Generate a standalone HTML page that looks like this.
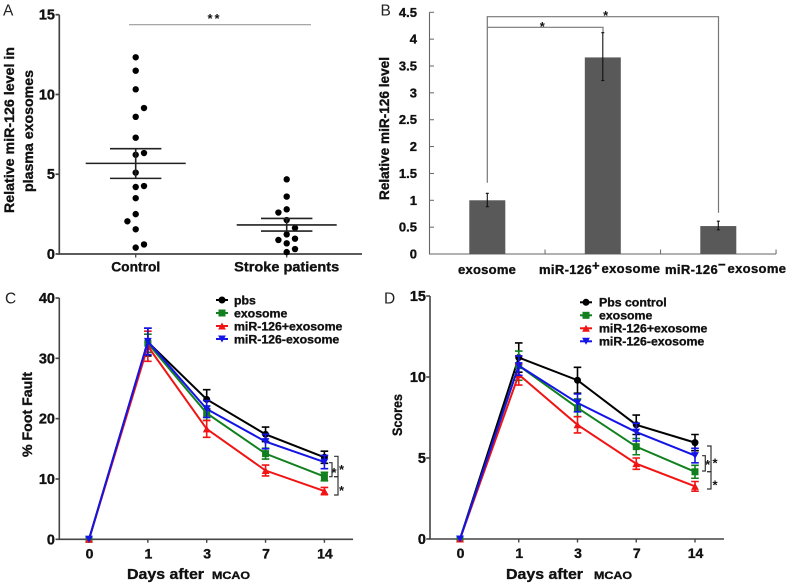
<!DOCTYPE html>
<html lang="en">
<head>
<meta charset="utf-8">
<title>miR-126 exosome figure</title>
<style>
html,body{margin:0;padding:0;background:#fff;width:790px;height:585px;overflow:hidden}
svg{display:block;filter:blur(0.35px)}
text{font-family:"Liberation Sans",sans-serif;font-weight:bold;fill:#111;stroke:#111;stroke-width:0.35px}
.panel{font-weight:normal;font-size:15.5px;fill:#222;stroke:none}
.br{fill:none;stroke:#333;stroke-width:1.2}
.star{font-size:13px;stroke:none}
</style>
</head>
<body>
<svg id="figure" width="790" height="585" viewBox="0 0 790 585" xmlns="http://www.w3.org/2000/svg">
  <rect x="0" y="0" width="790" height="585" fill="#fff"/>

  <text class="panel" x="3" y="15.5">A</text>
  <text class="panel" x="380.5" y="15.5">B</text>
  <text class="panel" x="5" y="303.5">C</text>
  <text class="panel" x="384" y="303.5">D</text>

  <text transform="translate(14,213) rotate(-90)" font-size="14" textLength="166" lengthAdjust="spacingAndGlyphs">Relative miR-126 level in</text>
  <text transform="translate(33,192) rotate(-90)" font-size="14" textLength="122" lengthAdjust="spacingAndGlyphs">plasma exosomes</text>
  <line x1="129" y1="24.7" x2="311" y2="24.7" stroke="#999" stroke-width="1.2"/>
  <text class="star" x="214.5" y="23" text-anchor="middle" letter-spacing="2">**</text>

  <text transform="translate(389,200) rotate(-90)" font-size="13.6" textLength="143" lengthAdjust="spacingAndGlyphs">Relative miR-126 level</text>
  <path class="br" d="M487.3 182.7V16.7H718.5V212.7" style="stroke:#777"/>
  <path class="br" d="M487.3 27.3H603V33" style="stroke:#777"/>
  <text class="star" x="605.7" y="20" text-anchor="middle">*</text>
  <text class="star" x="542.3" y="31" text-anchor="middle">*</text>

  <text transform="translate(32,457) rotate(-90)" font-size="14" textLength="85" lengthAdjust="spacingAndGlyphs">% Foot Fault</text>
  <text x="127" y="579" font-size="15" textLength="77" lengthAdjust="spacingAndGlyphs">Days after</text>
  <text x="212" y="579" font-size="11" textLength="38" lengthAdjust="spacingAndGlyphs">MCAO</text>
  <path class="br" d="M334 456.3H338V476.7H334"/>
  <path class="br" d="M334 476.7H338V495H334"/>
  <path class="br" d="M329 462.7H332V476.7H329"/>
  <text class="star" x="341.5" y="474" text-anchor="middle">*</text>
  <text class="star" x="341.5" y="495" text-anchor="middle">*</text>
  <text class="star" x="334" y="477" text-anchor="middle">*</text>

  <text transform="translate(402,436) rotate(-90)" font-size="13.5" textLength="42" lengthAdjust="spacingAndGlyphs">Scores</text>
  <text x="506" y="579" font-size="15" textLength="77" lengthAdjust="spacingAndGlyphs">Days after</text>
  <text x="594" y="579" font-size="11" textLength="38" lengthAdjust="spacingAndGlyphs">MCAO</text>
  <path class="br" d="M707 446H711V471.7H707"/>
  <path class="br" d="M707 471.7H711V489H707"/>
  <path class="br" d="M702 455.7H705.3V471H702"/>
  <text class="star" x="715" y="467.5" text-anchor="middle">*</text>
  <text class="star" x="715" y="489.5" text-anchor="middle">*</text>
  <text class="star" x="707.7" y="469" text-anchor="middle">*</text>

  <text x="458" y="274" font-size="13" letter-spacing="0.25">exosome</text>
  <text y="274" font-size="13" letter-spacing="0.35"><tspan x="539">miR-126</tspan><tspan x="592" y="270">+</tspan><tspan x="601.5" y="273">exosome</tspan></text>
  <text y="274" font-size="13" letter-spacing="0.35"><tspan x="665">miR-126</tspan><tspan x="718" y="269">−</tspan><tspan x="727.5" y="273">exosome</tspan></text>

  <g id="layer-a"></g>
  <g id="layer-b"></g>
  <g id="layer-c"></g>
  <g id="layer-d"></g>
</svg>

<script>
/* Panel A data */
const aCategories = ['Control', 'Stroke patients'];
const aTicks = [0, 5, 10, 15];
const aControlValues = [12.33, 11.49, 10.32, 9.15, 8.6, 7.29, 6.33, 6.22, 5.1, 4.2, 4.26, 3.5, 2.5, 2.05, 1.55, 0.6, 0.4];
const aControlColumn = [0, 0, 0, 1, 0, 0, 1, 0, 0, 0, 1, 0, 0, -1, 0, 1, 0];
const aStrokeValues = [4.68, 3.6, 2.6, 2.8, 2.13, 1.63, 1.23, 0.88, 0.96, 0.67, 0.31, 0.12];
const aStrokeColumn = [0, 0, -1, 0, 0, 1, 0, -1, 1, 0, 1, 0];
const aMeans = [5.68, 1.82];
const aUpper = [6.6, 2.23];
const aLower = [4.74, 1.44];

/* Panel B data */
const bTicks = [0, 0.5, 1, 1.5, 2, 2.5, 3, 3.5, 4, 4.5];
const bCategories = ['exosome', 'miR-126+exosome', 'miR-126-exosome'];
const bValues = [1, 3.66, 0.52];
const bUpper = [1.13, 4.12, 0.61];
const bLower = [0.88, 3.23, 0.45];

/* Panels C and D shared data */
const days = ['0', '1', '3', '7', '14'];

/* Panel C data */
const cTicks = [0, 10, 20, 30, 40];
const cNames = ['pbs', 'exosome', 'miR-126+exosome', 'miR-126-exosome'];
const cPbs = [0, 32.7, 23.2, 17.4, 13.6];
const cPbsErr = [0, 2.3, 1.6, 1.2, 1.0];
const cExo = [0, 32.5, 20.9, 14.2, 10.4];
const cExoErr = [0, 1.5, 1.2, 0.9, 0.7];
const cPlus = [0, 32, 18.3, 11.4, 8];
const cPlusErr = [0, 2.5, 1.4, 0.9, 0.6];
const cMinus = [0, 32.8, 21.6, 16.2, 12.8];
const cMinusErr = [0, 2.2, 1.4, 1.2, 1.1];

/* Panel D data */
const dTicks = [0, 5, 10, 15];
const dNames = ['Pbs control', 'exosome', 'miR-126+exosome', 'miR-126-exosome'];
const dPbs = [0, 11.2, 9.8, 7.05, 5.95];
const dPbsErr = [0, 0.9, 0.8, 0.6, 0.5];
const dExo = [0, 10.7, 8.1, 5.7, 4.15];
const dExoErr = [0, 0.9, 0.55, 0.5, 0.4];
const dPlus = [0, 10.15, 7.05, 4.65, 3.25];
const dPlusErr = [0, 0.65, 0.5, 0.35, 0.3];
const dMinus = [0, 10.7, 8.4, 6.6, 5.15];
const dMinusErr = [0, 0.6, 0.55, 0.55, 0.45];

const NS = 'http://www.w3.org/2000/svg';
function mk(tag, attrs, parent, txt) {
  const n = document.createElementNS(NS, tag);
  for (const k in attrs) n.setAttribute(k, attrs[k]);
  if (txt !== undefined) n.textContent = txt;
  parent.appendChild(n);
  return n;
}
function linear(d0, d1, r0, r1) {
  return function (v) { return r0 + (v - d0) * (r1 - r0) / (d1 - d0); };
}

/* ---------- Panel A ---------- */
(function () {
  const g = document.getElementById('layer-a');
  const y = linear(0, 15, 254, 14.7);
  const x = function (i) { return 135.7 + i * 151; };
  const COL = 8.3;
  let el = mk('path', { d: 'M59.3 ' + y(15) + 'V254H362', fill: 'none', stroke: '#444', 'stroke-width': 1.7 }, g);
  
  
  aTicks.forEach(function (t) {
    let m = mk('line', { x1: 55.5, x2: 59.3, y1: y(t), y2: y(t), stroke: '#444', 'stroke-width': 1.7 }, g);
    
    
    let l = mk('text', { x: 55, y: y(t) + 5, 'text-anchor': 'end', 'font-size': 14.5 }, g, String(t));
    
    
  });
  const labelWidths = [49, 105];
  aCategories.forEach(function (c, i) {
    let m = mk('line', { x1: x(i), x2: x(i), y1: 254, y2: 257.5, stroke: '#444', 'stroke-width': 1.3 }, g);
    
    
    let l = mk('text', { x: x(i), y: 271.5, 'text-anchor': 'middle', 'font-size': 14, textLength: labelWidths[i], lengthAdjust: 'spacingAndGlyphs' }, g, c);
    
    
  });
  const groups = [[aControlValues, aControlColumn], [aStrokeValues, aStrokeColumn]];
  groups.forEach(function (pair, gi) {
    pair[0].forEach(function (v, i) {
      let p = mk('circle', { cx: x(gi) + pair[1][i] * COL, cy: y(v), r: 3.2, fill: '#000' }, g);
      
      
    });
  });
  aMeans.forEach(function (m, i) {
    const cx = x(i);
    let a = mk('line', { x1: cx - 50, x2: cx + 50, y1: y(m), y2: y(m), stroke: '#222', 'stroke-width': 1.6 }, g);
    
    
    let b = mk('path', { d: 'M' + (cx - 25.7) + ' ' + y(aUpper[i]) + 'H' + (cx + 25.7) + 'M' + cx + ' ' + y(aUpper[i]) + 'V' + y(aLower[i]) + 'M' + (cx - 25.7) + ' ' + y(aLower[i]) + 'H' + (cx + 25.7), fill: 'none', stroke: '#222', 'stroke-width': 1.6 }, g);
    
    
  });
})();

/* ---------- Panel B ---------- */
(function () {
  const g = document.getElementById('layer-b');
  const y = linear(0, 4.5, 254, 12.3);
  const step = 115.5;
  const x = function (i) { return 487.3 + i * step; };
  let el = mk('path', { d: 'M429.5 ' + y(4.5) + 'V254H776', fill: 'none', stroke: '#666', 'stroke-width': 1.1 }, g);
  
  
  bTicks.forEach(function (t) {
    let m = mk('line', { x1: 429.5, x2: 434, y1: y(t), y2: y(t), stroke: '#666', 'stroke-width': 1 }, g);
    
    
    let l = mk('text', { x: 417, y: y(t) + 4.5, 'text-anchor': 'end', 'font-size': 13 }, g, String(t));
    
    
  });
  bCategories.forEach(function (c, i) {
    const tx = x(i) + step / 2;
    let m = mk('line', { x1: tx, x2: tx, y1: 254, y2: 249.5, stroke: '#666', 'stroke-width': 1 }, g);
    
    
  });
  bValues.forEach(function (v, i) {
    let r = mk('rect', { x: x(i) - 18, y: y(v), width: 36, height: 254 - y(v), fill: '#595959' }, g);
    
    
    let e = mk('path', { d: 'M' + (x(i) - 1.5) + ' ' + y(bUpper[i]) + 'H' + (x(i) + 1.5) + 'M' + x(i) + ' ' + y(bUpper[i]) + 'V' + y(bLower[i]) + 'M' + (x(i) - 1.5) + ' ' + y(bLower[i]) + 'H' + (x(i) + 1.5), fill: 'none', stroke: '#111', 'stroke-width': 1.1 }, g);
    
    
  });
})();

/* ---------- Panels C and D ---------- */
const seriesColors = ['#000000', '#12801f', '#f01414', '#1414e6'];
function marker(g, kind, cx, cy, color) {
  const s = 3.5;
  let n;
  if (kind === 0) n = mk('circle', { cx: cx, cy: cy, r: s, fill: color }, g);
  else if (kind === 1) n = mk('rect', { x: cx - s, y: cy - s, width: 2 * s, height: 2 * s, fill: color }, g);
  else if (kind === 2) n = mk('polygon', { points: (cx - s - 0.4) + ',' + (cy + s) + ' ' + (cx + s + 0.4) + ',' + (cy + s) + ' ' + cx + ',' + (cy - s) , fill: color }, g);
  else n = mk('polygon', { points: (cx - s - 0.4) + ',' + (cy - s) + ' ' + (cx + s + 0.4) + ',' + (cy - s) + ' ' + cx + ',' + (cy + s), fill: color }, g);
  return n;
}
function drawLinePanel(g, yScale, xScale, ticks, yTop, axisX, axisEnd, tickLabelX, series, errors, names, legendX, legendY, legendTextX) {
  let ax = mk('path', { d: 'M' + axisX + ' ' + yTop + 'V' + yScale(0) + 'H' + axisEnd, fill: 'none', stroke: '#444', 'stroke-width': 1.6 }, g);
  
  
  ticks.forEach(function (t) {
    let m = mk('line', { x1: axisX - 3.8, x2: axisX, y1: yScale(t), y2: yScale(t), stroke: '#444', 'stroke-width': 1.6 }, g);
    
    
    let l = mk('text', { x: tickLabelX, y: yScale(t) + 5, 'text-anchor': 'end', 'font-size': 14.5 }, g, String(t));
    
    
  });
  days.forEach(function (d, i) {
    let m = mk('line', { x1: xScale(i), x2: xScale(i), y1: yScale(0), y2: yScale(0) + 3.5, stroke: '#444', 'stroke-width': 1.4 }, g);
    
    
    let l = mk('text', { x: xScale(i) + 0.5, y: yScale(0) + 19, 'text-anchor': 'middle', 'font-size': 14 }, g, d);
    
    
  });
  series.forEach(function (vals, si) {
    const color = seriesColors[si];
    vals.forEach(function (v, i) {
      const e = errors[si][i];
      if (e <= 0) return;
      const cx = xScale(i), t = yScale(v + e), b = yScale(v - e);
      let bar = mk('path', { d: 'M' + (cx - 3.8) + ' ' + t + 'H' + (cx + 3.8) + 'M' + cx + ' ' + t + 'V' + b + 'M' + (cx - 3.8) + ' ' + b + 'H' + (cx + 3.8), fill: 'none', stroke: color, 'stroke-width': 1.6 }, g);
      
      
    });
    const pts = vals.map(function (v, i) { return xScale(i) + ',' + yScale(v); }).join(' ');
    let line = mk('polyline', { points: pts, fill: 'none', stroke: color, 'stroke-width': 2 }, g);
    
    
    vals.forEach(function (v, i) {
      let p = marker(g, si, xScale(i), yScale(v), color);
      
      
    });
  });
  names.forEach(function (n, i) {
    const ly = legendY + i * 13;
    let s = mk('line', { x1: legendX, x2: legendX + 12, y1: ly, y2: ly, stroke: seriesColors[i], 'stroke-width': 2 }, g);
    
    
    let p = marker(g, i, legendX + 6, ly, seriesColors[i]);
    
    
    let t = mk('text', { x: legendTextX, y: ly + 4.3, 'font-size': 12.3 }, g, n);
    
    
  });
}
drawLinePanel(
  document.getElementById('layer-c'),
  linear(0, 40, 539.3, 298),
  function (i) { return 89 + i * 58.85; },
  cTicks, 298, 59.3, 353, 55,
  [cPbs, cExo, cPlus, cMinus],
  [cPbsErr, cExoErr, cPlusErr, cMinusErr],
  cNames, 216, 300, 234
);
drawLinePanel(
  document.getElementById('layer-d'),
  linear(0, 15, 539, 296),
  function (i) { return 460 + i * 58.75; },
  dTicks, 296, 430, 724, 426,
  [dPbs, dExo, dPlus, dMinus],
  [dPbsErr, dExoErr, dPlusErr, dMinusErr],
  dNames, 580, 302.3, 599
);
</script>
</body>
</html>
